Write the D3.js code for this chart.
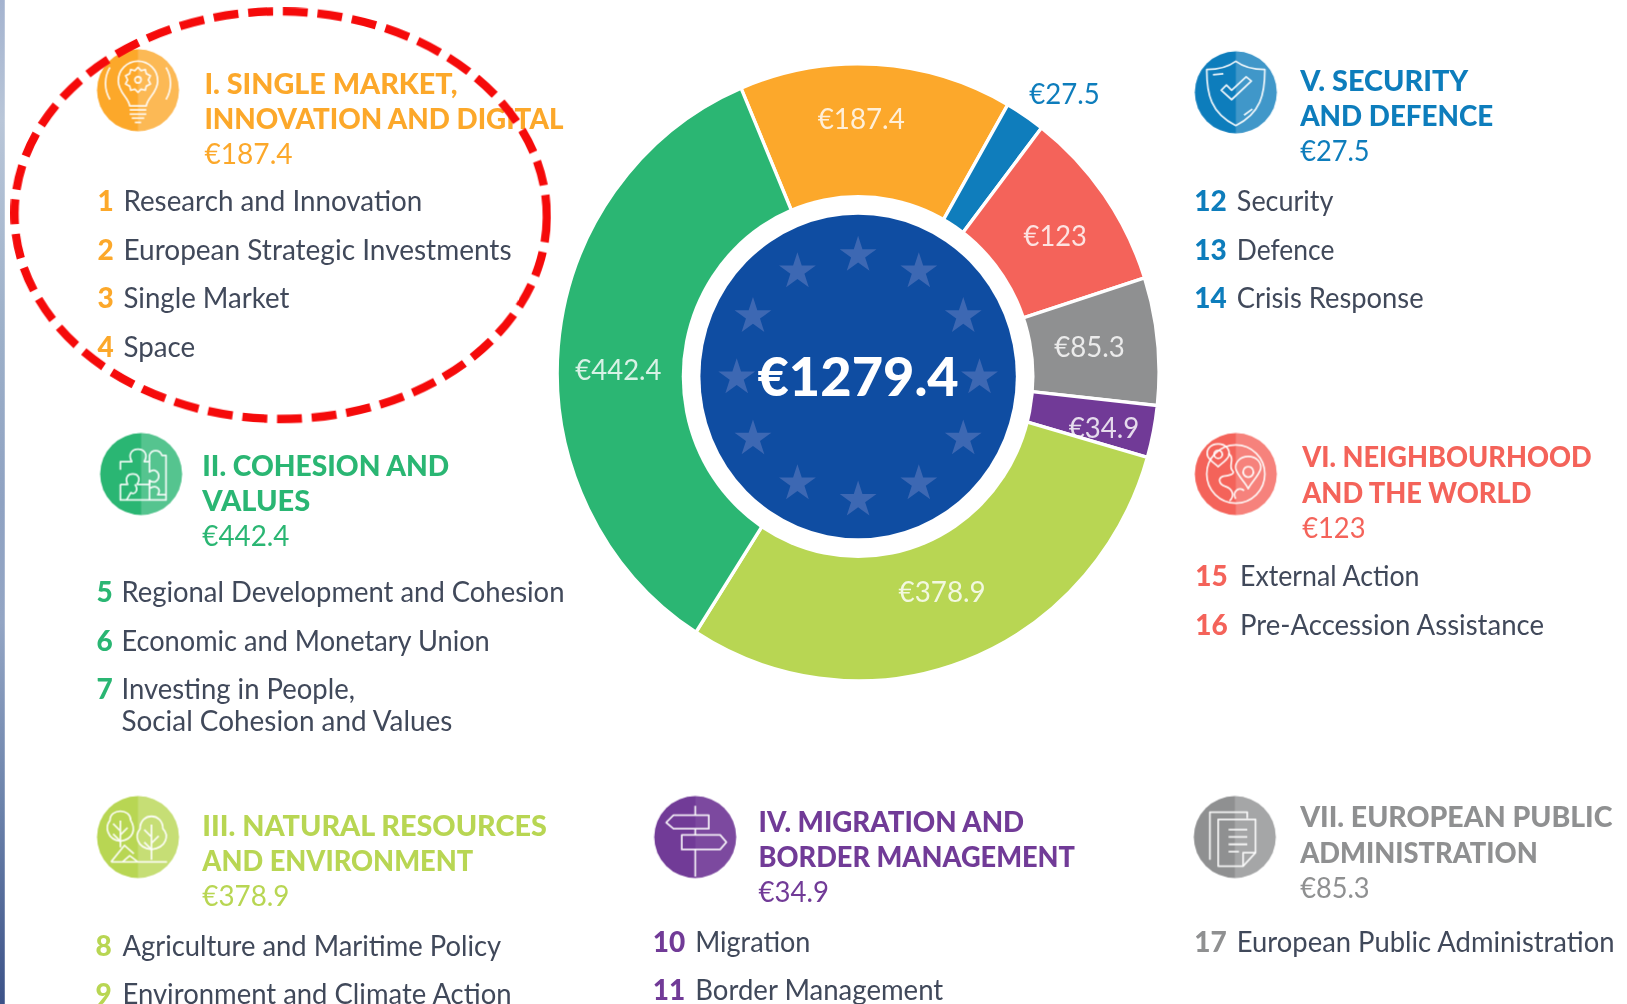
<!DOCTYPE html>
<html><head><meta charset="utf-8">
<style>html,body{margin:0;padding:0;background:#fff;overflow:hidden}svg{display:block}text{font-family:Lato,"Noto Sans",sans-serif}</style>
<script src="https://cdn.jsdelivr.net/npm/d3@7"></script></head><body>
<svg id="chart" width="1627" height="1004" viewBox="0 0 1568 968" preserveAspectRatio="none"></svg>
<script>
// ---- data ----
const headings = [
  ["I. SINGLE MARKET,", "INNOVATION AND DIGITAL"],
  ["II. COHESION AND", "VALUES"],
  ["III. NATURAL RESOURCES", "AND ENVIRONMENT"],
  ["IV. MIGRATION AND", "BORDER MANAGEMENT"],
  ["V. SECURITY", "AND DEFENCE"],
  ["VI. NEIGHBOURHOOD", "AND THE WORLD"],
  ["VII. EUROPEAN PUBLIC", "ADMINISTRATION"]
];
const amounts = [187.4, 442.4, 378.9, 34.9, 27.5, 123, 85.3];
const total = 1279.4;
const itemNumbers = [[1,2,3,4],[5,6,7],[8,9],[10,11],[12,13,14],[15,16],[17]];
const itemLabels = [
  ["Research and Innovation","European Strategic Investments","Single Market","Space"],
  ["Regional Development and Cohesion","Economic and Monetary Union","Investing in People,|Social Cohesion and Values"],
  ["Agriculture and Maritime Policy","Environment and Climate Action"],
  ["Migration","Border Management"],
  ["Security","Defence","Crisis Response"],
  ["External Action","Pre-Accession Assistance"],
  ["European Public Administration"]
];
const sliceOrder = [0,4,5,6,3,2,1]; // clockwise, starting with heading I

// ---- layout & style ----
const colors = ["#fca82b","#2bb673","#b8d653","#713a97","#0f7dbc","#f4635a","#8f9091"];
const startDeg = -22.9;
const layout = [
 {cx:133,cy:87,tx:197,ty:[80,114,148],tw:[244,346,85],nx:94,lx:119,iy:[193,240,287,334],lw:[288,374,160,69],sl:[830,114],sw:84},
 {cx:136,cy:457,tx:195,ty:[448,482,516],tw:[238,104,84],nx:93,lx:117,iy:[570,617,664],lw:[427,355,225,319],sl:[596,356],sw:83},
 {cx:133,cy:807,tx:195,ty:[795,829,863],tw:[332,261,84],nx:92,lx:118,iy:[911,958],lw:[365,375],sl:[908,570],sw:84},
 {cx:670,cy:807,tx:731,ty:[791,825,859],tw:[256,305,68],nx:629,lx:670,iy:[907,954],lw:[111,239],sl:[1064,412],sw:68},
 {cx:1191,cy:89,tx:1253,ty:[77,111,145],tw:[162,186,67],nx:1151,lx:1192,iy:[193,240,287],lw:[93,94,180],sl:[1026,90],sw:68},
 {cx:1191,cy:457,tx:1255,ty:[440,474,508],tw:[279,221,61],nx:1152,lx:1195,iy:[555,602],lw:[173,293],sl:[1017,227],sw:61},
 {cx:1190,cy:807,tx:1253,ty:[787,821,855],tw:[301,229,67],nx:1151,lx:1192,iy:[907],lw:[364],sl:[1050,334],sw:68}
];
const donut = {cx:827,cy:359,rx:290,ry:297.5,holeCx:827,holeCy:363,holeRx:170,holeRy:175,discRx:152,discRy:156};
const bodyColor = "#41485a";
const textDy = 0.8;

const svg = d3.select("#chart");
const defs = svg.append("defs");
const grad = defs.append("linearGradient").attr("id","edge").attr("x1",0).attr("x2",0).attr("y1",0).attr("y2",1);
[[0,"#a4b3cf"],[.12,"#b9c6d8"],[.33,"#9db0c9"],[.5,"#8fa2c2"],[.62,"#93a5c4"],[.8,"#6c83ab"],[1,"#3c5288"]]
  .forEach(s=>grad.append("stop").attr("offset",s[0]).attr("stop-color",s[1]));
const soft = defs.append("filter").attr("id","soft").attr("x","-5%").attr("y","-5%").attr("width","110%").attr("height","110%");
soft.append("feGaussianBlur").attr("stdDeviation",0.7);

svg.append("rect").attr("x",0).attr("y",0).attr("width",4.6).attr("height",968).attr("fill","url(#edge)");

// ---- donut ----
const g = svg.append("g").attr("transform",`translate(${donut.cx},${donut.cy}) scale(1,${donut.ry/donut.rx})`);
const pie = d3.pie().sort(null).value(d=>amounts[d])
  .startAngle(startDeg*Math.PI/180).endAngle((startDeg+360)*Math.PI/180);
const arc = d3.arc().innerRadius(100).outerRadius(donut.rx);
g.selectAll("path").data(pie(sliceOrder)).join("path")
  .attr("d",arc).attr("fill",d=>colors[d.data]).attr("stroke","#fff").attr("stroke-width",3.2);

svg.append("ellipse").attr("cx",donut.holeCx).attr("cy",donut.holeCy).attr("rx",donut.holeRx).attr("ry",donut.holeRy).attr("fill","#fff");
svg.append("ellipse").attr("cx",donut.holeCx).attr("cy",donut.holeCy).attr("rx",donut.discRx).attr("ry",donut.discRy).attr("fill","#0f4da2");

const star = d3.symbol().type(d3.symbolStar).size(390);
d3.range(12).forEach(i=>{
  const a=i*Math.PI/6;
  svg.append("path").attr("d",star())
    .attr("transform",`translate(${donut.holeCx+117*Math.sin(a)},${donut.holeCy+1-118*Math.cos(a)})`)
    .attr("fill","#3d68b3");
});

// ---- text helper: y is the visual middle of capitals ----
function put(parent,str,x,y,size,weight,fill,width,anchor){
  const t=parent.append("text").attr("x",x).attr("y",y+textDy+size*0.355).text(str)
    .attr("font-size",size).attr("font-weight",weight).attr("fill",fill);
  if(anchor) t.attr("text-anchor",anchor);
  if(width) t.attr("textLength",width).attr("lengthAdjust","spacingAndGlyphs");
  return t;
}
const T = svg.append("g").attr("filter","url(#soft)");

// centre + slice values
put(T,"€"+total,827,363,52,900,"#fff",194,"middle");
pie(sliceOrder).forEach(d=>{
  const L=layout[d.data];
  const outside = d.data===4;
  put(T,"€"+amounts[d.data],L.sl[0],L.sl[1],27,400,outside?colors[4]:"#fff",L.sw,"middle").attr("opacity",outside?1:.82);
});

// headings + lists
headings.forEach((h,i)=>{
  const L=layout[i], c=colors[i];
  put(T,h[0],L.tx,L.ty[0],28,900,c,L.tw[0]);
  put(T,h[1],L.tx,L.ty[1],28,900,c,L.tw[1]);
  put(T,"€"+amounts[i],L.tx,L.ty[2],27,400,c,L.tw[2]);
  let wi=0;
  itemLabels[i].forEach((lab,j)=>{
    put(T,itemNumbers[i][j],L.nx,L.iy[j],27,900,c);
    lab.split("|").forEach((part,k)=>{
      put(T,part,L.lx,L.iy[j]+k*30,27,400,bodyColor,L.lw[wi++]);
    });
  });
});

// ---- icons (local space: circle radius 40) ----
const icons = [
 // bulb
 ["M-8 15C-9 7-19 2-19-9A19 19 0 0 1 19-9C19 2 9 7 8 15Z","M-8 19H8M-8 23H8M-6 27H6M-3 31H3","M-27-22A30 30 0 0 0-27 9M27-22A30 30 0 0 1 27 9",
  "M0-22L3-19L7-20L8-16L12-14L10-10L12-6L8-4L7 0L3-1L0 2L-3-1L-7 0L-8-4L-12-6L-10-10L-12-14L-8-16L-7-20L-3-19Z","M-3-10a3 3 0 1 0 6 0a3 3 0 1 0-6 0"],
 // puzzle
 ["M-20-4V-12H-9C-13-19-9-24-3-24S7-19 3-12H8V-2C13-6 17-2 17 2S13 10 8 6V10H-4C0 4-3 0-8 0S-16 4-13 10H-20","M8-12V-18C10-24 18-24 20-18H24V25H-20V10","M-6 10C-2 16-6 20-10 18L-14 25M8 6V25M8 14C14 10 20 14 16 20L24 20"],
 // trees
 ["M-17 10V-16M-17-6L-24-13M-17-2L-10-9M-17 4L-24-3","M-17 4C-30 2-32-10-27-16C-27-28-7-28-7-16C-2-8-4 2-17 4Z","M13 22V-12M13 0L6-7M13 6L20-1M13 12L6 5","M13 12C-2 10-3-2 2-8C2-24 24-24 24-8C30-2 28 10 13 12Z","M-26 24H28M-26 24L-13 8L-4 16M-15 24L-8 18L0 24"],
 // signpost
 ["M0-30V-21M0-8V-2M0 12V38","M-28-14L-21-21H13V-8H-21Z","M-13-2H24L30 5L24 12H-13Z"],
 // shield
 ["M0-30C8-24 18-22 28-22C28 2 24 20 0 32C-24 20-28 2-28-22C-18-22-8-24 0-30Z","M-14-2L-4 7L15-11L10-15L-4-2L-9-7Z","M-22-17L-12-18M16 16L8 22"],
 // globe
 ["M-28 0A28 28 0 1 0 28 0A28 28 0 1 0-28 0","M-17-29C-25-29-29-23-27-17C-25-13-20-10-17-7C-14-10-9-13-7-17C-5-23-9-29-17-29Z","M-17-23a4 4 0 1 0 .1 0","M12-17C4-17-1-11 0-5C2 2 9 8 12 14C15 8 22 2 24-5C25-11 20-17 12-17Z","M12-7a5 5 0 1 0 .1 0","M-7-20C0-14-8-8-3-3C0 0-8 2-12 2C-18 4-16 10-10 12C-4 14 0 20-6 26M0 24C-4 16 4 12 8 16"],
 // documents
 ["M-24 22V-24H12V-18","M-16 28V-17H20V15L8 28Z","M20 15H8V28","M-6-7H12M-6 0H12M-6 7H12M-6 14H4"]
];
const I = svg.append("g").attr("filter","url(#soft)");
layout.forEach((L,i)=>{
  const ic=I.append("g").attr("transform",`translate(${L.cx},${L.cy})`);
  ic.append("circle").attr("r",39.5).attr("fill",colors[i]);
  ic.append("path").attr("d","M0-39.5A39.5 39.5 0 0 1 0 39.5Z").attr("fill","#fff").attr("opacity",i===3?.08:.2);
  ic.selectAll("path.l").data(icons[i]).join("path").attr("class","l").attr("d",d=>d)
    .attr("fill","none").attr("stroke","#fff").attr("stroke-width",1.7).attr("stroke-linejoin","round").attr("opacity",.9);
});

// ---- highlighted annotation ----
svg.append("ellipse").attr("cx",270.5).attr("cy",207.5).attr("rx",256.5).attr("ry",196.5)
  .attr("transform","rotate(0.5 270.5 207.5)")
  .attr("fill","none").attr("stroke","#f50a0a").attr("stroke-width",8).attr("stroke-dasharray","24 9.5");
</script></body></html>
